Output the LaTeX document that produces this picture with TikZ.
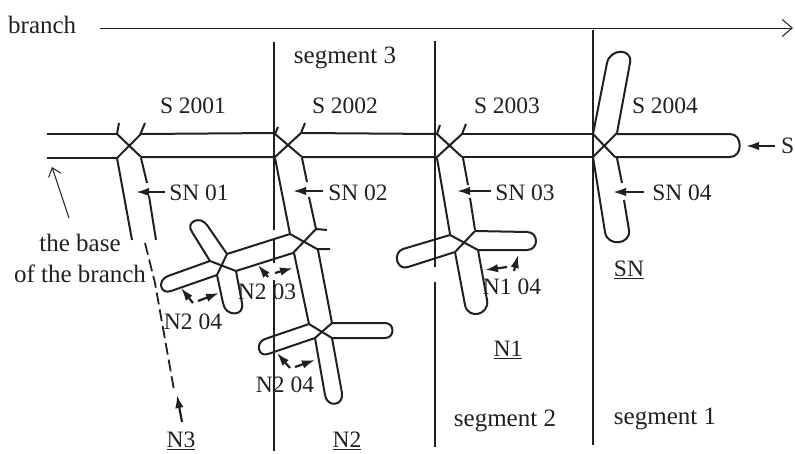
\documentclass[tikz,border=0pt]{standalone}
\usepackage{fontspec}
\setmainfont{Liberation Serif}
\usetikzlibrary{arrows.meta}
\definecolor{ink}{HTML}{231F20}
\tikzset{
  x=1pt,y=-1pt,
  wall/.style={line width=2.2pt,draw=ink},
  root/.style={line width=2pt,draw=ink,line join=round},
  dashroot/.style={line width=1.8pt,draw=ink,dash pattern=on 12pt off 5pt},
  solidtip/.style={line width=2.2pt,draw=ink,-{Latex[length=13pt,width=8.5pt]}},
  opentip/.style={line width=1pt,draw=ink,-{Straight Barb[length=10pt,width=17pt]}},
  lab/.style={font=\fontsize{23.5}{24}\selectfont,text=ink,inner sep=4pt},
  wlab/.style={font=\fontsize{25}{26}\selectfont,text=ink,inner sep=4pt},
}
\begin{document}
\begin{tikzpicture}
\useasboundingbox (0,0) rectangle (795,453);
% segment walls
\draw[wall] (274,42) -- (274,230) (274,240) -- (274,263) (274,280) -- (274,451);
\draw[wall] (435,41) -- (435,267) (435,282) -- (435,447);
\draw[wall] (593,30) -- (593,445);
% main axis
\draw[root] (47,134) -- (117,134) (47,158) -- (117,158);
\draw[root] (119,123) -- (117,134) -- (141,157) (117,158) -- (140,135) -- (145,123);
\draw[root] (141,134) -- (275,133) (141,157) -- (275,157);
\draw[root] (278,127) -- (275,134) -- (302,157) (275,157) -- (301,133) -- (305,123);
\draw[root] (302,133) -- (437,134) (302,157) -- (437,157);
\draw[root] (440,125) -- (437,134) -- (462,157) (437,157) -- (462,134) -- (466,124);
\draw[root] (462,134) -- (593,134) (462,157) -- (593,157);
\draw[root] (593,134) -- (615,157) (617,133) -- (593,157);
\draw[root] (617,134) -- (730,134) .. controls (743,134) and (743,157) .. (730,157) -- (615,157);
% S 2004 upper shoot
\draw[root] (593,134) -- (607,63) .. controls (610,48) and (633,48) .. (630,63) -- (617,133);
% SN 04
\draw[root] (593,157) -- (605,232) .. controls (607,247) and (631,245) .. (629,230) -- (624,200)
  (622,183) -- (617,158);
% SN 01 and N3
\draw[root] (117,158) -- (132,240) (141,158) -- (147,183) (149,196) -- (156,240);
\draw[dashroot] (145,243) -- (155,283) -- (174,390);
% SN 02
\draw[root] (275,158) -- (290,234) (302,158) -- (307,182) (309,197) -- (316,229);
\draw[root] (327,230) -- (316,229) -- (293,253) (290,234) -- (317,249) -- (330,249);
% N2 03 lateral with its three shoots
\draw[root] (290,234) -- (227,254) -- (207,225) .. controls (200,215) and (185,222) .. (192,232) -- (210,261)
  -- (168,276) .. controls (157,280) and (160,295) .. (171,291) -- (217,275)
  -- (223,303) .. controls (225,317) and (245,317) .. (242,303) -- (236,271) -- (293,253);
\draw[root] (227,254) -- (217,275) (210,261) -- (236,271);
% N2 trunk lower part
\draw[root] (294,253) -- (309,324) (318,250) -- (332,323);
\draw[root] (332,323) -- (385,323) .. controls (395,323) and (395,338) .. (385,338) -- (332,338)
  -- (342,393) .. controls (344,406) and (327,408) .. (325,395) -- (315,338)
  -- (268,354) .. controls (258,357.5) and (255,342.5) .. (265,339) -- (309,324) -- (332,338);
\draw[root] (332,323) -- (315,338);
% SN 03 and N1
\draw[root] (437,158) -- (450,234) (463,158) -- (468,185) (470,198) -- (475,230);
\draw[root] (475,231) -- (527,232) .. controls (539,232) and (539,250) .. (527,250) -- (478,250)
  -- (487,300) .. controls (490,315) and (468,320) .. (465,305) -- (455,252)
  -- (408,267) .. controls (397,271) and (392,253) .. (403,249) -- (450,235) -- (478,250);
\draw[root] (475,231) -- (455,252);
% labels
\node[wlab,anchor=west,inner sep=0pt] (branchlab) at (8,25) {branch};
\coordinate (branchend) at (793,28);
\draw[opentip] (100,28) -- (branchend);
\node[wlab] (seg3) at (345,58) {segment 3};
\node[lab] (s1) at (193,106) {S 2001};
\node[lab] (s2) at (345,106) {S 2002};
\node[lab] (s3) at (507,106) {S 2003};
\node[lab] (s4) at (665,106) {S 2004};
\node[lab] (sn1) at (199,193) {SN 01};
\node[lab] (sn2) at (358,193) {SN 02};
\node[lab] (sn3) at (525,193) {SN 03};
\node[lab] (sn4) at (682,193) {SN 04};
\node[lab,anchor=east,inner sep=0pt] (slab) at (794.5,146) {S};
\node[wlab] (base1) at (80,243) {the base};
\node[wlab] (base2) at (80,274) {of the branch};
\node[lab] (snu) at (629,270) {\underline{SN}};
\node[lab] (n104) at (512,287) {N1 04};
\node[lab] (n1u) at (508,350) {\underline{N1}};
\node[wlab] (seg2) at (505,421) {segment 2};
\node[wlab] (seg1) at (665,419) {segment 1};
\node[lab] (n3u) at (181,441) {\underline{N3}};
\node[lab] (n2u) at (347,441) {\underline{N2}};
\node[lab] (n204a) at (193,322) {N2 04};
\node[lab] (n203) at (267,292) {N2 03};
\node[lab] (n204b) at (285,385) {N2 04};
% pointers
\coordinate (ps) at (746,146);
\draw[solidtip] (775,146) -- (ps);
\draw[solidtip] (sn1.west) ++(0,-1) -- (136,192);
\draw[solidtip] (sn2.west) ++(-1,-2) -- (293,191);
\draw[solidtip] (sn3.west) ++(0,-2) -- (457,191);
\draw[solidtip] (sn4.west) ++(-4,-1) -- (613,192);
\draw[solidtip] (507,267) -- (485,270);
\draw[solidtip] (514,271) -- (518,255);
\draw[solidtip] (268,277) -- (258,265);
\draw[solidtip] (275,273) -- (293,268);
\draw[solidtip] (193,303) -- (181,288);
\draw[solidtip] (198,301) -- (219,293);
\draw[solidtip] (290,368) -- (277,353);
\draw[solidtip] (295,367) -- (315,360);
\draw[solidtip] (182,422) -- (177,395);
\draw[line width=1pt,draw=ink,-{Straight Barb[length=8pt,width=13pt]}] (69,218) -- (52,167);
\end{tikzpicture}
\end{document}
